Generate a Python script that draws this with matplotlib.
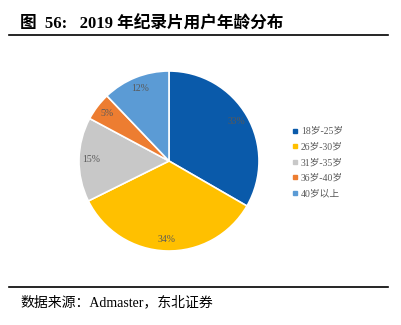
import matplotlib.pyplot as plt
from matplotlib.lines import Line2D

# data
age_groups = ['18岁-25岁', '26岁-30岁', '31岁-35岁', '36岁-40岁', '40岁以上']
shares = [33, 34, 15, 5, 12]
colors = ['#0A5AAA', '#FFC000', '#C8C8C8', '#ED7D31', '#5B9BD5']

title = '图  56:   2019 年纪录片用户年龄分布'
source = '数据来源：Admaster，东北证券'

serif_cjk = ['Liberation Serif', 'Noto Sans CJK SC']
W, H = 401, 325

fig = plt.figure(figsize=(W / 100, H / 100), dpi=100)

# pie axes: centre ~ (169, 161) px, radius ~ 90 px
cx, cy, r = 169, 161, 90
ax = fig.add_axes([(cx - r) / W, (H - cy - r) / H, 2 * r / W, 2 * r / H])
wedges, texts, autotexts = ax.pie(
    shares, colors=colors, startangle=90, counterclock=False,
    autopct='%d%%', pctdistance=0.87,
    wedgeprops=dict(edgecolor='white', linewidth=1.2),
    textprops=dict(color='#595959', fontsize=7, family=serif_cjk))
ax.set_xlim(-1, 1)
ax.set_ylim(-1, 1)
ax.set_aspect('equal')

# legend
handles = [Line2D([], [], marker='s', linestyle='', markersize=2.6,
                  markerfacecolor=c, markeredgecolor=c) for c in colors]
fig.legend(handles, age_groups, loc='upper left',
           bbox_to_anchor=(293 / W, 1 - 127 / H), frameon=False,
           prop=dict(family=serif_cjk, size=7), labelcolor='#595959',
           handlelength=0.5, handletextpad=0.3, labelspacing=0.68,
           borderaxespad=0, borderpad=0)

# title and source with rules
fig.text(20 / W, 1 - 29 / H, title, fontsize=12, fontweight='bold',
         family=serif_cjk, va='baseline', ha='left')
fig.add_artist(Line2D([9 / W, 388 / W], [1 - 34.5 / H] * 2, color='black', lw=1.2))
fig.add_artist(Line2D([9 / W, 388 / W], [1 - 287 / H] * 2, color='black', lw=1.2))
fig.text(20 / W, 1 - 302 / H, source, fontsize=10, family=serif_cjk,
         va='center', ha='left')

fig.savefig('out.png', dpi=100)
